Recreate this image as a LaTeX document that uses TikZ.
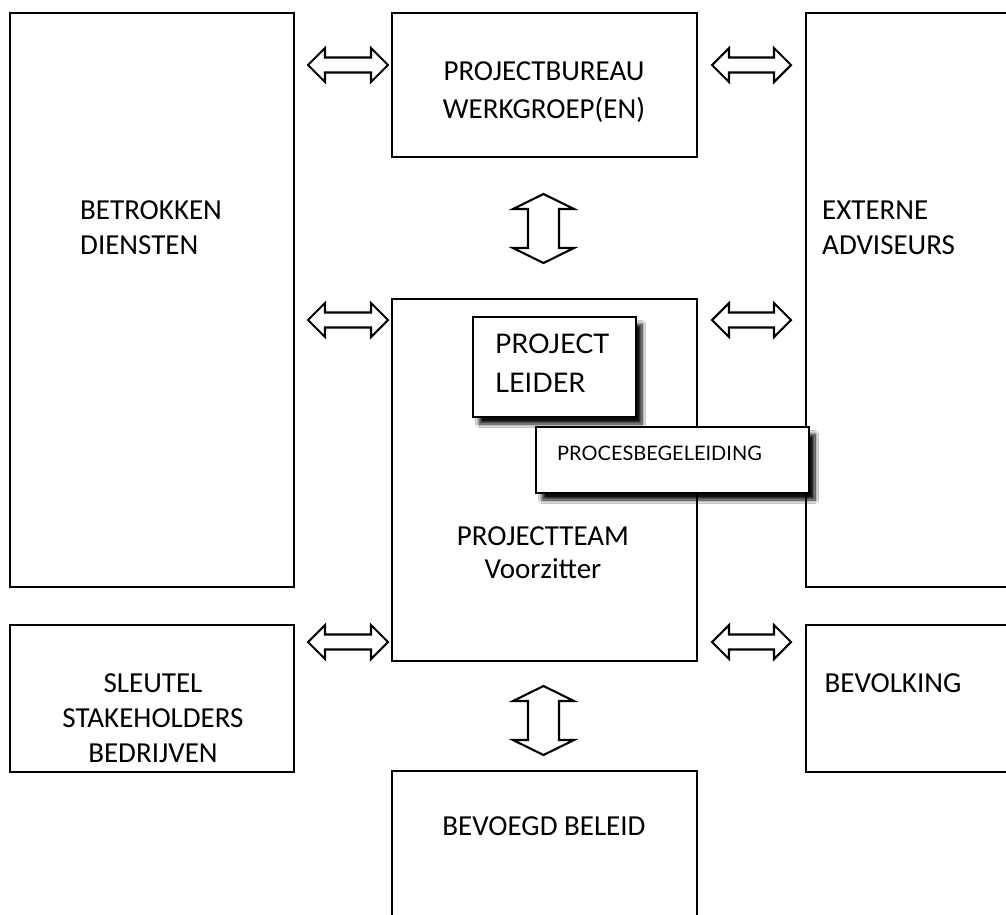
\documentclass[tikz,border=0pt]{standalone}
\usepackage{fontspec}
\setmainfont{Carlito}
\newfontfamily\gillfont{Lato}
\usetikzlibrary{shadows.blur}
\newcommand\hollowH[4]{%
  \draw[hollow] (#2,#4) -- ({#2+17},{#4-17}) -- ({#2+17},{#4-7.5}) -- ({#3-17},{#4-7.5}) -- ({#3-17},{#4-17}) -- (#3,#4) -- ({#3-17},{#4+17}) -- ({#3-17},{#4+7.5}) -- ({#2+17},{#4+7.5}) -- ({#2+17},{#4+17}) -- cycle;
  \coordinate (#1) at ({(#2+#3)/2},#4);}
\newcommand\hollowV[4]{%
  \draw[hollow] (#2,#3) -- ({#2+30.5},{#3+15}) -- ({#2+15.5},{#3+15}) -- ({#2+15.5},{#4-15}) -- ({#2+30.5},{#4-15}) -- (#2,#4) -- ({#2-30.5},{#4-15}) -- ({#2-15.5},{#4-15}) -- ({#2-15.5},{#3+15}) -- ({#2-30.5},{#3+15}) -- cycle;
  \coordinate (#1) at (#2,{(#3+#4)/2});}
\begin{document}
\begin{tikzpicture}[x=1pt,y=-1pt,
  box/.style={draw=black, line width=2.6pt, fill=white, anchor=north west, inner sep=0pt, outer sep=0pt},
  lbl/.style={inner sep=0pt, font=\fontsize{29}{34}\selectfont},
  hollow/.style={draw=black, line width=2.1pt, line join=miter, fill=white},
  shbox/.style={draw=black, line width=1.6pt, fill=white, anchor=north west, inner sep=0pt, outer sep=0pt,
    blur shadow={shadow xshift=6pt, shadow yshift=-7pt, shadow blur radius=3.5pt, shadow blur steps=10, shadow opacity=95}}]
\path[use as bounding box] (0,0) rectangle (1006,914);
\clip (0,0) rectangle (1006,914);
\fill[white] (0,0) rectangle (1006,914);

% boxes
\node[box, minimum width=284pt, minimum height=574pt] (betr) at (10,13) {};
\node[box, minimum width=305pt, minimum height=144pt] (bureau) at (392,13) {};
\node[box, minimum width=240pt, minimum height=574pt] (ext) at (806,13) {};
\node[box, minimum width=305pt, minimum height=362pt] (team) at (392,299) {};
\node[box, minimum width=284pt, minimum height=147pt] (sleutel) at (10,625) {};
\node[box, minimum width=240pt, minimum height=147pt] (bevolk) at (806,625) {};
\node[box, minimum width=305pt, minimum height=180pt] (beleid) at (392,771) {};

% texts
\node[lbl, anchor=base] (t1a) at (544,80) {PROJECTBUREAU};
\node[lbl, anchor=base] (t1b) at (544,118) {WERKGROEP(EN)};
\node[lbl, anchor=base west] (t2a) at (80,219) {BETROKKEN};
\node[lbl, anchor=base west] (t2b) at (80,254) {DIENSTEN};
\node[lbl, anchor=base west] (t3a) at (822,219) {EXTERNE};
\node[lbl, anchor=base west] (t3b) at (822,254) {ADVISEURS};
\node[lbl, anchor=base] (t4a) at (543,545) {PROJECTTEAM};
\node[lbl, anchor=base] (t4b) at (543,578) {Voorzitter};
\node[lbl, anchor=base] (t5a) at (153,692) {SLEUTEL};
\node[lbl, anchor=base] (t5b) at (153,727) {STAKEHOLDERS};
\node[lbl, anchor=base] (t5c) at (153,762) {BEDRIJVEN};
\node[lbl, anchor=base] (t6) at (893,692) {BEVOLKING};
\node[lbl, anchor=base] (t7) at (544,835) {BEVOEGD BELEID};

% inner shadowed boxes
\node[shbox, minimum width=163pt, minimum height=100pt] (leider) at (473,317) {};
\node[inner sep=0pt, anchor=base west, font=\gillfont\fontsize{27}{32}\selectfont] (t8a) at (495,353) {PROJECT};
\node[inner sep=0pt, anchor=base west, font=\gillfont\fontsize{27}{32}\selectfont] (t8b) at (495,392) {LEIDER};
\node[shbox, minimum width=273pt, minimum height=66pt] (proces) at (536,427) {};
\node[inner sep=0pt, anchor=base west, font=\gillfont\fontsize{20}{24}\selectfont] (t9) at (557,460) {PROCESBEGELEIDING};

% hollow double arrows
\hollowH{a1}{308}{388}{65}
\hollowH{a2}{712}{791}{65}
\hollowH{a3}{308}{388}{320}
\hollowH{a4}{712}{791}{320}
\hollowH{a5}{308}{388}{642}
\hollowH{a6}{712}{791}{642}
\hollowV{a7}{543.5}{194}{263}
\hollowV{a8}{543.5}{686}{755}
\end{tikzpicture}
\end{document}
